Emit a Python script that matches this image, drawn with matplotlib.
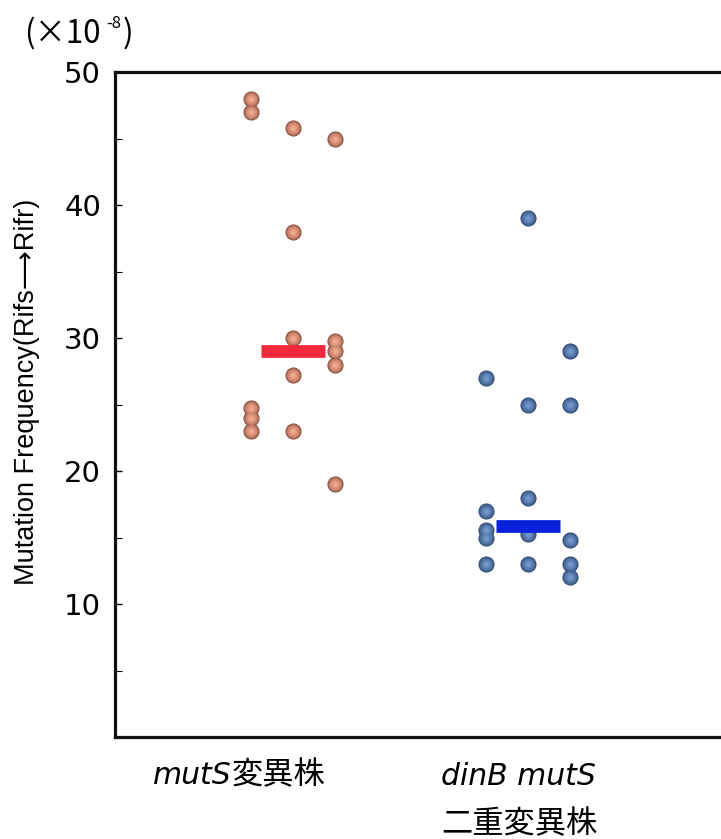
import numpy as np
import matplotlib
matplotlib.use("Agg")
import matplotlib.pyplot as plt
from matplotlib.colors import to_rgb

# data (units: x10^-8)
groups = ["mutS", "dinB mutS"]
muts_values = [48.0, 47.0, 45.8, 45.0, 38.0, 30.0, 29.8, 29.0, 28.0, 27.2,
               24.7, 24.0, 23.0, 23.0, 19.0]
muts_cols = [-1, -1, 0, 1, 0, 0, 1, 1, 1, 0, -1, -1, -1, 0, 1]
dinb_values = [39.0, 29.0, 27.0, 25.0, 25.0, 18.0, 17.0, 15.6, 15.0, 15.3,
               14.8, 13.0, 13.0, 13.0, 12.0]
dinb_cols = [0, 1, -1, 0, 1, 0, -1, -1, -1, 0, 1, -1, 0, 1, 1]
center_values = [29.0, 15.9]
yticks = [10, 20, 30, 40, 50]
minor_ticks = [5, 15, 25, 35, 45]

W, H = 721, 839
fig = plt.figure(figsize=(W / 100, H / 100), dpi=100)
ax = fig.add_axes([115 / W, 1 - 737 / H, 1 - 115 / W, (737 - 72) / H])

col_step = 0.18


def draw_balls(x, y, edge, body, light, size=135, steps=10):
    # fake a shaded sphere with concentric circles
    e = np.array(to_rgb(edge))
    b = np.array(to_rgb(body))
    l = np.array(to_rgb(light))
    for i in range(steps):
        t = i / (steps - 1)
        if t < 0.3:
            c = e + (b - e) * (t / 0.3)
        else:
            c = b + (l - b) * ((t - 0.3) / 0.7)
        s = size * (1 - 0.8 * t) ** 2
        ax.scatter(x, y, s=s, color=c, linewidths=0, zorder=3 + i * 0.01)


x0 = 0 + np.array(muts_cols) * col_step
x1 = 1 + np.array(dinb_cols) * col_step
draw_balls(x0, muts_values, "#8a5444", "#c98169", "#f0aa90")
draw_balls(x1, dinb_values, "#34507a", "#4e6f9f", "#7399cf")

bar_half = 0.136
ax.hlines(center_values[0], -bar_half, bar_half, color="#f5283c",
          linewidth=9.2, zorder=5, capstyle="butt")
ax.hlines(center_values[1], 1 - bar_half, 1 + bar_half, color="#0a22dc",
          linewidth=9.2, zorder=5, capstyle="butt")

ax.set_xlim(-0.757, 1.821)
ax.set_ylim(0, 50)
ax.set_xticks([])
ax.set_yticks(yticks)
ax.set_yticks(minor_ticks, minor=True)
ax.set_yticklabels([str(v) for v in yticks], fontsize=21,
                   family=["DejaVu Sans"])
ax.tick_params(axis="y", which="major", direction="in", length=5, width=1.0, pad=10)
ax.tick_params(axis="y", which="minor", direction="in", length=5, width=0.8)
for side in ["left", "bottom", "top"]:
    ax.spines[side].set_linewidth(2.3)
    ax.spines[side].set_color("#111111")
ax.spines["right"].set_visible(False)

fig.text(27 / W, 1 - 392 / H, "Mutation Frequency(Rifs\u27f6Rifr)",
         rotation=90, ha="center", va="center", fontsize=19.5,
         family=["Liberation Sans", "DejaVu Sans"])

# (x10^-8) unit mark
jp = ["Noto Sans CJK JP", "DejaVu Sans"]
renderer = fig.canvas.get_renderer()
u = fig.text(24 / W, 1 - 43 / H, "(\u00d710", fontsize=22.5, family=jp, va="baseline")
ux = u.get_window_extent(renderer).x1
s8 = fig.text((ux + 6) / W, 1 - 28 / H, "-8", fontsize=12, family=jp, va="baseline")
sx = s8.get_window_extent(renderer).x1
fig.text((sx + 1) / W, 1 - 43 / H, ")", fontsize=22.5, family=jp, va="baseline")


def mixed_label(xpx, ypx, italic, plain):
    t = fig.text(xpx / W, 1 - ypx / H, italic, fontsize=21.5, style="italic",
                 family=["DejaVu Sans"], va="baseline")
    right = t.get_window_extent(renderer).x1
    if plain:
        fig.text(right / W, 1 - ypx / H, plain, fontsize=22.5, family=jp,
                 va="baseline")


mixed_label(153, 784, "mutS", "\u5909\u7570\u682a")
mixed_label(441, 785, "dinB mutS", "")
fig.text(441 / W, 1 - 833 / H, "\u4e8c\u91cd\u5909\u7570\u682a", fontsize=22.5,
         family=jp, va="baseline")

fig.savefig("out.png", dpi=100)
